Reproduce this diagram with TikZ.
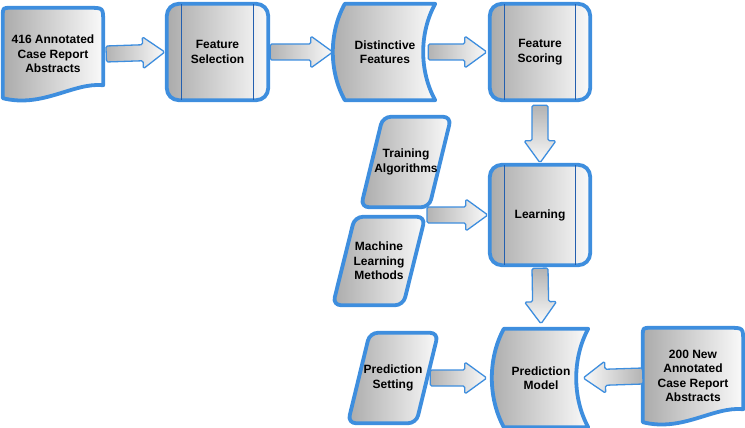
\documentclass[tikz,border=0pt]{standalone}
\usepackage{fontspec}
\setmainfont{Liberation Sans}
\usetikzlibrary{calc,backgrounds}
\definecolor{bord}{RGB}{62,142,222}
\definecolor{innerb}{RGB}{35,95,175}
\tikzset{
  lbl/.style={rectangle, inner sep=0pt, align=center, font=\fontsize{12}{14.5}\selectfont\bfseries},
  shapeborder/.style={draw=bord, line width=3.8pt, line join=round, left color=black!33, right color=black!2},
  innerline/.style={draw=innerb, line width=1.2pt},
  blockarrow/.style={draw=bord, line width=1.3pt, line join=round, rounded corners=1.5pt},
  arrR/.style={left color=black!30, right color=black!2},
  arrL/.style={right color=black!30, left color=black!2},
  arrD/.style={top color=black!30, bottom color=black!2},
}
\newcommand\procshape[1]{%
  \draw[shapeborder, rounded corners=12pt] (#1.north west) rectangle (#1.south east);
  \draw[innerline] ([xshift=15pt]#1.north west) -- ([xshift=15pt]#1.south west);
  \draw[innerline] ([xshift=-15pt]#1.north east) -- ([xshift=-15pt]#1.south east);
}
\newcommand\storeshape[1]{%
  \path[shapeborder] let \p1=(#1.north west), \p2=(#1.south east) in
    ({\x1+12pt},\y1) -- ({\x2-2pt},\y1)
    .. controls ({\x2-18pt},{0.7*\y1+0.3*\y2}) and ({\x2-18pt},{0.3*\y1+0.7*\y2}) .. ({\x2-2pt},\y2)
    -- ({\x1+12pt},\y2)
    .. controls ({\x1-4pt},{0.3*\y1+0.7*\y2}) and ({\x1-4pt},{0.7*\y1+0.3*\y2}) .. ({\x1+12pt},\y1)
    -- cycle;
}
\newcommand\docshape[1]{%
  \path[shapeborder] let \p1=(#1.north west), \p2=(#1.south east) in
    (\x1,{\y2+2pt}) -- (\x1,{\y1-8pt}) .. controls (\x1,\y1) .. ({\x1+8pt},\y1)
    -- ({\x2-14pt},\y1) .. controls (\x2,\y1) .. (\x2,{\y1-14pt})
    -- (\x2,{\y2+15pt})
    .. controls ({\x2-30pt},{\y2+18pt}) and ({\x1+40pt},{\y2-8pt}) .. (\x1,{\y2+2pt})
    -- cycle;
}
\newcommand\parashape[1]{%
  \path[shapeborder, rounded corners=8pt] let \p1=(#1.north west), \p2=(#1.south east) in
    ({\x1+45pt},\y1) -- (\x2,\y1) -- ({\x2-22pt},\y2) -- (\x1,\y2) -- ({\x1+22pt},\y1) -- cycle;
}
\newcommand\barrow[3]{%
  \path[blockarrow,#1] let \p1=(#2), \p2=(#3),
      \n1={atan2(\y2-\y1,\x2-\x1)}, \n2={veclen(\x2-\x1,\y2-\y1)} in
    [shift={(\p1)}, rotate=\n1]
    (0pt,-8pt) -- ({\n2*1pt-22pt},-8pt) -- ({\n2*1pt-22pt},-16pt) -- ({\n2*1pt},0pt)
    -- ({\n2*1pt-22pt},16pt) -- ({\n2*1pt-22pt},8pt) -- (0pt,8pt) -- cycle;
}
\begin{document}
\begin{tikzpicture}[x=1pt,y=-1pt]
\useasboundingbox (0,0) rectangle (745,428);
% nodes (text with shape extents)
\node[lbl, minimum width=100pt, minimum height=92pt] (doc1) at (53,54) {416 Annotated\\Case Report\\Abstracts};
\node[lbl, minimum width=101pt, minimum height=96pt] (fs) at (217.5,52) {Feature\\Selection};
\node[lbl, minimum width=104pt, minimum height=96pt] (df) at (385,52) {Distinctive\\Features};
\node[lbl, minimum width=100pt, minimum height=96pt] (fsc) at (540,52) {Feature\\Scoring};
\node[lbl, minimum width=100pt, minimum height=100pt] (learn) at (540,215) {Learning};
\node[lbl, minimum width=90pt, minimum height=90pt] (ta) at (406,162) {Training\\Algorithms};
\node[lbl, minimum width=92pt, minimum height=88pt] (ml) at (379,261) {Machine\\Learning\\Methods};
\node[lbl, minimum width=98pt, minimum height=98pt] (pm) at (541,378) {Prediction\\Model};
\node[lbl, minimum width=90pt, minimum height=90pt] (ps) at (393,378) {Prediction\\Setting};
\node[lbl, minimum width=100pt, minimum height=96pt] (doc2) at (693,376) {200 New\\Annotated\\Case Report\\Abstracts};
\coordinate (tam) at (427,215);
\begin{scope}[on background layer]
  \docshape{doc1}
  \procshape{fs}
  \storeshape{df}
  \procshape{fsc}
  \procshape{learn}
  \parashape{ta}
  \parashape{ml}
  \storeshape{pm}
  \parashape{ps}
  \docshape{doc2}
\end{scope}
% block-arrow connectors
\barrow{arrR}{[xshift=3pt]doc1.east}{[xshift=-2pt]fs.west}
\barrow{arrR}{[xshift=2pt]fs.east}{df.west}
\barrow{arrR}{[xshift=-9pt]df.east}{[xshift=-3pt]fsc.west}
\barrow{arrD}{[yshift=-5pt]fsc.south}{[yshift=2pt]learn.north}
\barrow{arrR}{tam}{[xshift=-2pt]learn.west}
\barrow{arrD}{[yshift=-3pt]learn.south}{[yshift=5pt]pm.north}
\barrow{arrR}{[xshift=-8pt]ps.east}{[xshift=-5pt]pm.west}
\barrow{arrL}{doc2.west}{[xshift=-7pt]pm.east}
\end{tikzpicture}
\end{document}
